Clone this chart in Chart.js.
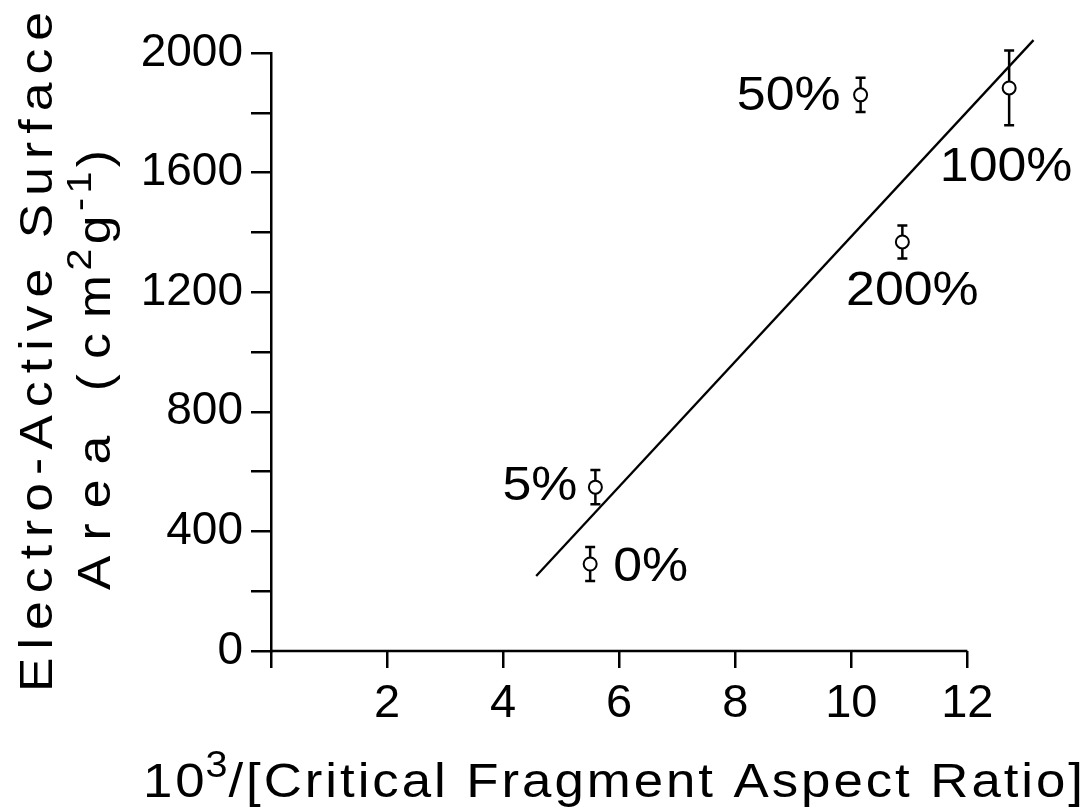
<!DOCTYPE html>
<html>
<head>
<meta charset="utf-8">
<script src="https://cdn.jsdelivr.net/npm/chart.js@4.4.1/dist/chart.umd.min.js"></script>
<style>
  html, body { margin: 0; padding: 0; background: #fff; }
  #wrap { width: 1089px; height: 807px; }
</style>
</head>
<body>
<div id="wrap"><canvas id="graf"></canvas></div>
<script>
// data
const concentrations = ['0%', '5%', '50%', '100%', '200%'];
const aspectRatioX = [5.50, 5.59, 10.16, 12.72, 10.88];     // 10^3 / critical fragment aspect ratio
const surfaceArea = [291, 548, 1860, 1883, 1368];           // cm2 g-1
const surfaceErr = [57, 57, 57, 125, 55];
const fitX = [4.57, 13.14];
const fitY = [251, 2043];
const xTickValues = [0, 2, 4, 6, 8, 10, 12];
const yTickValues = [0, 200, 400, 600, 800, 1000, 1200, 1400, 1600, 1800, 2000];
const xAxisEnd = 12;

// label placement next to each point (pixels, align)
const labelPlace = [
  { dx: 23, dy: 4, align: 'left' },
  { dx: -18, dy: 0, align: 'right' },
  { dx: -20, dy: 2, align: 'right' },
  { dx: -3, dy: 80, align: 'center' },
  { dx: 10, dy: 50, align: 'center' }
];

const FONT = '"Liberation Sans", Arial, sans-serif';

const pointData = aspectRatioX.map((x, i) => ({ x: x, y: surfaceArea[i] }));
const lineData = fitX.map((x, i) => ({ x: x, y: fitY[i] }));

function segFont(s, size) {
  return (s.sup ? Math.round(size * 0.75) : size) + 'px ' + FONT;
}

// pieces of text (some superscript) drawn char by char, widened a bit and
// spaced out so the whole thing covers `width`
function spacedText(ctx, segs, cx, y, size, width, maxStretch) {
  const chars = [];
  segs.forEach(s => {
    ctx.font = segFont(s, size);
    Array.from(s.t).forEach(c => chars.push({ c: c, sup: !!s.sup, w: ctx.measureText(c).width }));
  });
  // superscripts sit tighter than normal letters
  const weights = chars.slice(0, -1).map((ch, i) => (ch.sup || chars[i + 1].sup ? 0.3 : 1));
  const wsum = weights.reduce((a, b) => a + b, 0) || 1;
  const natural = chars.reduce((a, ch) => a + ch.w, 0);
  const sx = Math.min(width / natural, maxStretch);
  const gap = (width / sx - natural) / wsum;
  ctx.save();
  ctx.translate(cx - width / 2, y);
  ctx.scale(sx, 1);
  ctx.textAlign = 'left';
  let x = 0;
  chars.forEach((ch, i) => {
    ctx.font = segFont({ sup: ch.sup }, size);
    ctx.fillText(ch.c, x, ch.sup ? -size * 0.42 : 0);
    x += ch.w + (i < weights.length ? gap * weights[i] : 0);
  });
  ctx.restore();
}

function labelText(ctx, text, x, y, size, align, sx) {
  ctx.font = size + 'px ' + FONT;
  const w = ctx.measureText(text).width * sx;
  let start = x;
  if (align === 'center') start = x - w / 2;
  if (align === 'right') start = x - w;
  ctx.save();
  ctx.translate(start, y);
  ctx.scale(sx, 1);
  ctx.textAlign = 'left';
  ctx.fillText(text, 0, 0);
  ctx.restore();
}

const errorBars = {
  id: 'errorBars',
  beforeDatasetsDraw(chart) {
    const { ctx, scales } = chart;
    ctx.save();
    ctx.strokeStyle = '#000';
    ctx.lineWidth = 2.5;
    // x axis line only up to 12
    const y0 = scales.y.getPixelForValue(0);
    ctx.beginPath();
    ctx.moveTo(scales.x.getPixelForValue(0), y0);
    ctx.lineTo(scales.x.getPixelForValue(xAxisEnd), y0);
    ctx.stroke();
    aspectRatioX.forEach((xv, i) => {
      const px = scales.x.getPixelForValue(xv);
      const top = scales.y.getPixelForValue(surfaceArea[i] + surfaceErr[i]);
      const bot = scales.y.getPixelForValue(surfaceArea[i] - surfaceErr[i]);
      ctx.beginPath();
      ctx.moveTo(px, top); ctx.lineTo(px, bot);
      ctx.moveTo(px - 5, top); ctx.lineTo(px + 5, top);
      ctx.moveTo(px - 5, bot); ctx.lineTo(px + 5, bot);
      ctx.stroke();
    });
    ctx.restore();
  }
};

const textLayer = {
  id: 'textLayer',
  afterDraw(chart) {
    const { ctx, scales, chartArea } = chart;
    ctx.save();
    ctx.fillStyle = '#000';
    ctx.textBaseline = 'middle';
    // point labels
    concentrations.forEach((lab, i) => {
      const p = labelPlace[i];
      const px = scales.x.getPixelForValue(aspectRatioX[i]) + p.dx;
      const py = scales.y.getPixelForValue(surfaceArea[i]) + p.dy;
      labelText(ctx, lab, px, py, 48, p.align, 1.08);
    });

    // x axis title
    ctx.textBaseline = 'alphabetic';
    spacedText(ctx, [{ t: '10' }, { t: '3', sup: true }, { t: '/[Critical Fragment Aspect Ratio]' }], 613, 797, 48, 940, 1.1);

    // y axis title, two lines
    const cy = (chartArea.top + chartArea.bottom) / 2;
    ctx.save();
    ctx.translate(52, cy);
    ctx.rotate(-Math.PI / 2);
    spacedText(ctx, [{ t: 'Electro-Active Surface' }], 0, 0, 46, 680, 1.12);
    ctx.restore();
    ctx.save();
    ctx.translate(110, cy + 18);
    ctx.rotate(-Math.PI / 2);
    spacedText(ctx, [{ t: 'Area (cm' }, { t: '2', sup: true }, { t: 'g' }, { t: '-1', sup: true }, { t: ')' }], 0, 0, 46, 440, 1.12);
    ctx.restore();
    ctx.restore();
  }
};

new Chart(document.getElementById('graf'), {
  type: 'scatter',
  data: {
    datasets: [
      {
        label: 'Surface area',
        data: pointData,
        pointStyle: 'circle',
        pointRadius: 6.5,
        borderWidth: 2,
        borderColor: '#000',
        backgroundColor: '#fff',
        showLine: false,
        clip: false
      },
      {
        label: 'Fit',
        data: lineData,
        showLine: true,
        pointRadius: 0,
        borderWidth: 2.3,
        borderColor: '#000',
        clip: false
      }
    ]
  },
  options: {
    responsive: true,
    maintainAspectRatio: false,
    animation: false,
    events: [],
    layout: { padding: { top: 53, right: 52, left: 0, bottom: 0 } },
    plugins: {
      legend: { display: false },
      tooltip: { enabled: false }
    },
    scales: {
      x: {
        type: 'linear',
        min: 0,
        max: 13.2,
        afterBuildTicks: (scale) => { scale.ticks = xTickValues.map(v => ({ value: v })); },
        afterFit: (scale) => { scale.height = 156; },
        ticks: {
          color: '#000',
          font: { family: FONT, size: 47 },
          padding: 8,
          maxRotation: 0,
          autoSkip: false,
          callback: (v) => (v === 0 ? '' : v)
        },
        grid: { drawOnChartArea: false, drawTicks: true, tickLength: 17, color: '#000', lineWidth: 2.5 },
        border: { display: false }
      },
      y: {
        type: 'linear',
        min: 0,
        max: 2000,
        afterBuildTicks: (scale) => { scale.ticks = yTickValues.map(v => ({ value: v })); },
        afterFit: (scale) => { scale.width = 271; },
        ticks: {
          color: '#000',
          font: { family: FONT, size: 46 },
          padding: 8,
          autoSkip: false,
          callback: (v) => (v % 400 === 0 ? v : '')
        },
        grid: { drawOnChartArea: false, drawTicks: true, tickLength: 20, color: '#000', lineWidth: 2.5 },
        border: { display: true, color: '#000', width: 2.5 }
      }
    }
  },
  plugins: [errorBars, textLayer]
});
</script>
</body>
</html>
